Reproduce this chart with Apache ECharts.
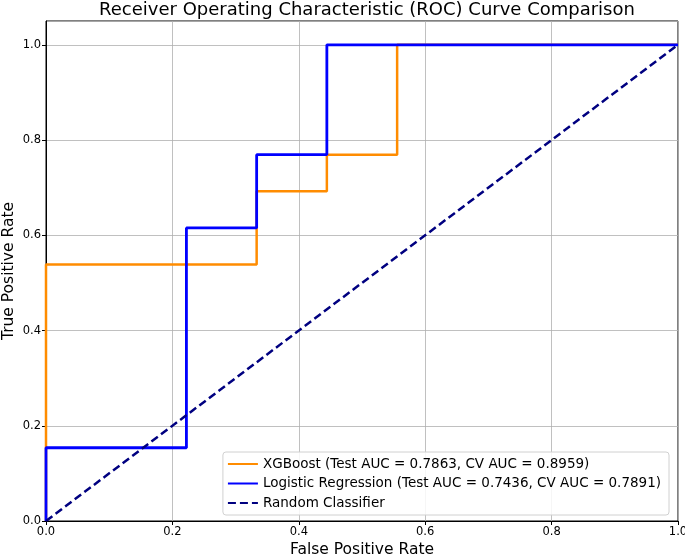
<!DOCTYPE html>
<html><head><meta charset="utf-8">
<script src="https://cdn.jsdelivr.net/npm/echarts@6/dist/echarts.min.js"></script>
<style>html,body{margin:0;padding:0;background:#fff}#c{width:685px;height:558px}</style>
</head><body><div id="c"></div>
<script>
const xgbFpr = [0, 0, 0.3333, 0.3333, 0.4444, 0.4444, 0.5556, 0.5556, 1];
const xgbTpr = [0, 0.5385, 0.5385, 0.6923, 0.6923, 0.7692, 0.7692, 1, 1];
const lrFpr = [0, 0, 0.2222, 0.2222, 0.3333, 0.3333, 0.4444, 0.4444, 1];
const lrTpr = [0, 0.1538, 0.1538, 0.6154, 0.6154, 0.7692, 0.7692, 1, 1];
const randFpr = [0, 1];
const randTpr = [0, 1];
const seriesNames = ['XGBoost (Test AUC = 0.7863, CV AUC = 0.8959)', 'Logistic Regression (Test AUC = 0.7436, CV AUC = 0.7891)', 'Random Classifier'];
const titleText = 'Receiver Operating Characteristic (ROC) Curve Comparison';

const zip = (a, b) => a.map((v, i) => [v, b[i]]);
const font = 'DejaVu Sans';
const chart = echarts.init(document.getElementById('c'));
chart.setOption({
  animation: false,
  textStyle: {fontFamily: font},
  title: {text: titleText, left: 362, textAlign: 'center', top: -4,
    textStyle: {fontFamily: font, fontSize: 18, fontWeight: 'normal', color: '#000'}},
  grid: {left: 46, right: 7, top: 21, bottom: 37, outerBoundsMode: 'none', containLabel: false,
    show: true, borderColor: '#000', borderWidth: 1, backgroundColor: 'transparent'},
  xAxis: {type: 'value', min: 0, max: 1, interval: 0.2,
    name: 'False Positive Rate', nameLocation: 'middle', nameGap: 21, nameMoveOverlap: false,
    nameTextStyle: {fontFamily: font, fontSize: 15.5, color: '#000'},
    axisLine: {show: true, lineStyle: {color: '#000'}},
    axisTick: {show: true, length: 4, lineStyle: {color: '#000'}},
    axisLabel: {fontFamily: font, fontSize: 11.5, color: '#000', margin: 5, formatter: v => v.toFixed(1)},
    splitLine: {show: true, lineStyle: {color: '#b0b0b0', width: 0.8}}},
  yAxis: {type: 'value', min: 0, max: 1.05, interval: 0.2,
    name: 'True Positive Rate', nameLocation: 'middle', nameGap: 29, nameMoveOverlap: false,
    nameTextStyle: {fontFamily: font, fontSize: 15.5, color: '#000'},
    axisLine: {show: true, lineStyle: {color: '#000'}},
    axisTick: {show: true, length: 4, lineStyle: {color: '#000'}},
    axisLabel: {fontFamily: font, fontSize: 11.5, color: '#000', margin: 5, showMaxLabel: false, formatter: v => v.toFixed(1)},
    splitLine: {show: true, lineStyle: {color: '#b0b0b0', width: 0.8}}},
  legend: {right: 16, bottom: 43, orient: 'vertical', itemWidth: 30, itemHeight: 12, itemGap: 5.5,
    backgroundColor: 'rgba(255,255,255,0.85)', borderColor: '#d0d0d0', borderWidth: 1, borderRadius: 3,
    padding: [5, 8, 5, 4], itemStyle: {opacity: 0},
    textStyle: {fontFamily: font, fontSize: 13.5, lineHeight: 14, color: '#000'},
    data: seriesNames},
  series: [
    {name: seriesNames[0], type: 'line', data: zip(xgbFpr, xgbTpr), symbol: 'none', z: 2,
      lineStyle: {color: '#ff8c00', width: 2.5}, itemStyle: {color: '#ff8c00'}},
    {name: seriesNames[1], type: 'line', data: zip(lrFpr, lrTpr), symbol: 'none', z: 3,
      lineStyle: {color: '#0000ff', width: 2.8}, itemStyle: {color: '#0000ff'}},
    {name: seriesNames[2], type: 'line', data: zip(randFpr, randTpr), symbol: 'none', z: 4,
      lineStyle: {color: '#000080', width: 2.5, type: [8, 4]}, itemStyle: {color: '#000080'}}
  ]
});
</script></body></html>
